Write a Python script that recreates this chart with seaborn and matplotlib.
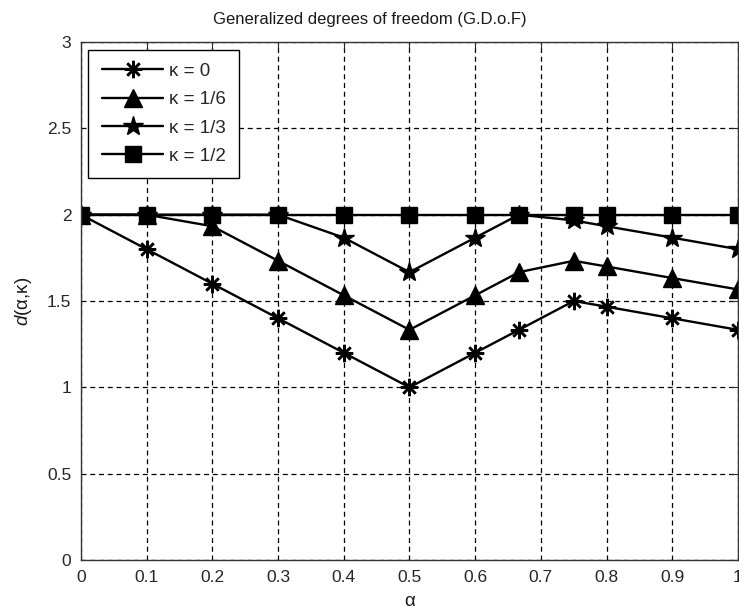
import matplotlib
matplotlib.use("Agg")
import matplotlib.pyplot as plt
import seaborn as sns
import pandas as pd

# Interference level alpha and generalized degrees of freedom per feedback level kappa
alpha = [0.0, 0.1, 0.2, 0.3, 0.4, 0.5, 0.6, 2 / 3, 0.75, 0.8, 0.9, 1.0]
d_k0 = [2.0, 1.8, 1.6, 1.4, 1.2, 1.0, 1.2, 1.333, 1.5, 1.467, 1.4, 1.333]
d_k16 = [2.0, 2.0, 1.933, 1.733, 1.533, 1.333, 1.533, 1.667, 1.733, 1.7, 1.633, 1.567]
d_k13 = [2.0, 2.0, 2.0, 2.0, 1.867, 1.667, 1.867, 2.0, 1.967, 1.933, 1.867, 1.8]
d_k12 = [2.0, 2.0, 2.0, 2.0, 2.0, 2.0, 2.0, 2.0, 2.0, 2.0, 2.0, 2.0]

labels = ["κ = 0", "κ = 1/6", "κ = 1/3", "κ = 1/2"]
series = [d_k0, d_k16, d_k13, d_k12]

x_ticks = [0, 0.1, 0.2, 0.3, 0.4, 0.5, 0.6, 0.7, 0.8, 0.9, 1]
x_ticklabels = ["0", "0.1", "0.2", "0.3", "0.4", "0.5", "0.6", "0.7", "0.8", "0.9", "1"]
y_ticks = [0, 0.5, 1, 1.5, 2, 2.5, 3]
y_ticklabels = ["0", "0.5", "1", "1.5", "2", "2.5", "3"]

frames = []
for lab, vals in zip(labels, series):
    frames.append(pd.DataFrame({"alpha": alpha, "d": vals, "kappa": lab}))
df = pd.concat(frames, ignore_index=True)

sns.set_style("white")
plt.rcParams["font.family"] = ["Liberation Sans", "DejaVu Sans"]
plt.rcParams["mathtext.fontset"] = "custom"
plt.rcParams["mathtext.it"] = "Liberation Sans:italic"
plt.rcParams["mathtext.rm"] = "Liberation Sans"

fig = plt.figure(figsize=(7.39, 6.14), dpi=100)
ax = fig.add_axes([0.1096, 0.088, 0.8890, 0.8435])

styles = {
    "κ = 0": dict(marker=(8, 2, 0), markersize=12.5, markeredgewidth=1.8),
    "κ = 1/6": dict(marker="^", markersize=13.5, markeredgewidth=1.0),
    "κ = 1/3": dict(marker="*", markersize=15, markeredgewidth=1.0),
    "κ = 1/2": dict(marker="s", markersize=12, markeredgewidth=1.0),
}

for lab in labels:
    sub = df[df["kappa"] == lab]
    sns.lineplot(data=sub, x="alpha", y="d", ax=ax, color="black",
                 linewidth=1.7, markerfacecolor="black", markeredgecolor="black",
                 label=lab, sort=False, estimator=None, **styles[lab])

ax.set_xlim(0, 1)
ax.set_ylim(0, 3)
ax.set_xticks(x_ticks)
ax.set_xticklabels(x_ticklabels)
ax.set_yticks(y_ticks)
ax.set_yticklabels(y_ticklabels)

ax.grid(True, color="black", linestyle=(0, (4, 3)), linewidth=0.9)
ax.tick_params(direction="in", length=5, width=0.8, top=True, right=True,
               labelsize=12.5, colors="#262626", pad=7)
for sp in ax.spines.values():
    sp.set_color("#333333")
    sp.set_linewidth(1.0)

ax.set_title("Generalized degrees of freedom (G.D.o.F)", fontsize=12, pad=13,
             color="#1a1a1a", x=0.44)
ax.set_xlabel("α", fontsize=13.5, labelpad=6, color="#1a1a1a")
ax.set_ylabel(r"$d$(α,κ)", fontsize=13.5, labelpad=9, color="#1a1a1a")

leg = ax.legend(loc="upper left", fontsize=13.5, handlelength=3.3,
                handletextpad=0.3, labelspacing=0.6, borderpad=0.7,
                fancybox=False, framealpha=1, edgecolor="black",
                borderaxespad=0.4)
leg.get_frame().set_linewidth(1.0)

fig.savefig("out.png", dpi=100)
